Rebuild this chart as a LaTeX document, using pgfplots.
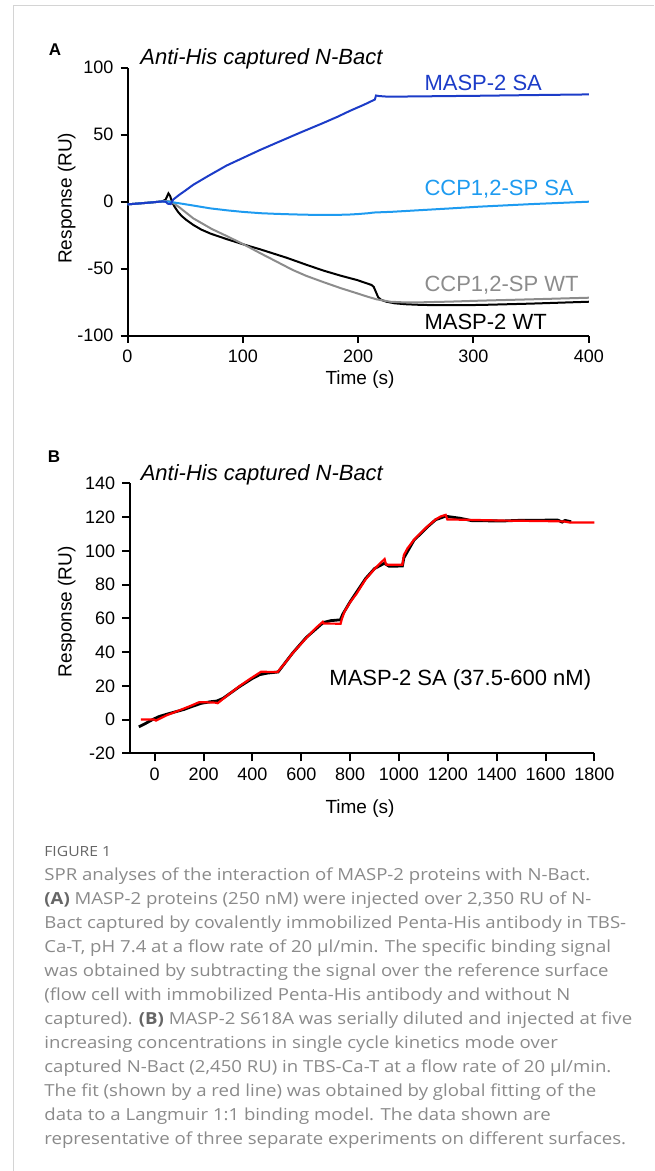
\documentclass[border=0pt]{standalone}
\usepackage{fontspec}
\setmainfont{Liberation Sans}
\newfontfamily\capfont[FakeStretch=1.12]{Open Sans}
\usepackage{pgfplots}
\pgfplotsset{compat=1.18}
\definecolor{darkblue}{HTML}{1C3CC8}
\definecolor{lightblue}{HTML}{1E9BF0}
\definecolor{grayline}{HTML}{8C8C8C}
\definecolor{capgray}{HTML}{8A8A8A}
\definecolor{capdark}{HTML}{666666}
\definecolor{framegray}{HTML}{D4D4D4}
\pgfplotsset{spr/.style={
  scale only axis, axis x line*=bottom, axis y line*=left,
  axis line style={line width=1pt, black},
  major tick style={line width=1pt, black},
  tick align=outside,
  tick label style={font=\fontsize{9}{10}\selectfont},
  clip=false}}
\newcommand{\capline}[2]{\node[anchor=base west, inner sep=0pt, text=capgray, font=\capfont\fontsize{8.3}{10}\selectfont] at (44,{880+24.03*#1}) {#2};}
\begin{document}
\begin{tikzpicture}
\path[use as bounding box] (0,0) rectangle (327pt,-585.5pt);
\draw[framegray, line width=0.5pt] (6.5pt,-585.5pt) -- (6.5pt,-3pt) -- (327pt,-3pt);
% ---------------- Panel A
\begin{axis}[spr, at={(63.75pt,-167.9pt)}, anchor=south west,
  width=230.65pt, height=134.1pt,
  xmin=0, xmax=400, ymin=-100, ymax=100,
  major tick length=3.5pt,
  xtick={0,100,200,300,400}, xticklabels={0,100,200,300,400},
  ytick={-100,-50,0,50,100}, yticklabels={-100,-50,0,50,100}]
\addplot[black, line width=1pt] table {
0 -2
10 -1.3
20 -0.6
30 0.2
33 1.5
35.5 6.2
37 4.2
38.5 0
41 -4
44 -7.8
47 -10.7
51 -13.6
57 -17.3
64 -20.8
72 -23.8
86 -27.9
100 -31.7
115 -35.5
138 -41.8
155 -47.0
170 -51.4
185 -55.2
199 -58.4
211.6 -62.1
213.5 -63.5
215 -66.5
217.4 -71.3
220 -73.2
224.6 -74.6
232 -75.8
242 -76.5
256 -77
280 -77.2
306 -77
350 -76
400 -74.6
};
\addplot[grayline, line width=1pt] table {
0 -2
10 -1.3
20 -0.6
30 0.2
34 0.5
38 0
45 -4.2
57 -12.4
73 -20.3
86 -25.6
100 -31.5
116 -38.8
130 -45.0
143 -50.8
155 -55.3
170 -60
185 -64.5
199 -68.3
208 -70.8
216 -72.8
228 -74.6
240 -75.1
256 -75
280 -74.5
306 -73.8
350 -72.8
400 -71.6
};
\addplot[lightblue, line width=1pt] table {
0 -2
10 -1.3
20 -0.6
30 0.2
36 0
45 -1.2
58 -3
72 -5
87 -6.5
100 -7.6
116 -8.6
130 -9.1
145 -9.5
160 -9.8
178 -9.9
192 -9.6
200 -9.2
210 -8.5
213 -8.1
230 -7.5
250 -6.5
280 -5.0
305 -3.7
350 -1.8
400 0
};
\addplot[darkblue, line width=1pt] table {
0 -2
10 -1.3
20 -0.6
30 0.2
33 0
35 -1.5
37.5 -1.8
39.5 1.5
45 5.2
50 8.2
57 12.6
70 19.2
86 27
100 32.6
115 38.6
130 44.2
150 51.6
170 58.8
182 63.3
193 67.8
205 72.3
214.5 76.2
215.5 79.2
218 78.8
226 78.3
260 78.6
305 79
350 79.5
400 80
};
\node[anchor=west, inner sep=0pt, font=\fontsize{11}{13}\selectfont\itshape] at (axis cs:10.8,106.9) {Anti-His captured N-Bact};
\node[anchor=west, inner sep=0pt, font=\fontsize{11}{13}\selectfont, text=darkblue] at (axis cs:257.2,88.3) {MASP-2 SA};
\node[anchor=west, inner sep=0pt, font=\fontsize{11}{13}\selectfont, text=lightblue] at (axis cs:257.2,9.2) {CCP1,2-SP SA};
\node[anchor=west, inner sep=0pt, font=\fontsize{11}{13}\selectfont, text=grayline] at (axis cs:257.2,-62.1) {CCP1,2-SP WT};
\node[anchor=west, inner sep=0pt, font=\fontsize{11}{13}\selectfont] at (axis cs:257.2,-89.5) {MASP-2 WT};
\end{axis}
% ---------------- Panel B
\begin{axis}[spr, at={(65.15pt,-376.65pt)}, anchor=south west,
  width=232.05pt, height=135pt,
  xmin=-100, xmax=1800, ymin=-20, ymax=140,
  major tick length=4pt,
  xtick={0,200,...,1800}, xticklabels={0,200,400,600,800,1000,1200,1400,1600,1800},
  ytick={-20,0,...,140}, yticklabels={-20,0,20,40,60,80,100,120,140}]
\addplot[black, line width=1.4pt] table {
-65 -4.3
-40 -2.5
-15 -0.5
0 0.6
18 1.8
50 3.2
80 4.4
120 6
150 7.6
190 9.6
230 10.6
255 11
280 12.6
346 19.4
400 24.4
430 26.6
460 27.5
505 28.2
565 39.5
620 48.6
690 57.5
720 58.6
760 59.1
770 62.5
800 69.8
863 83.5
900 89.5
940 92.6
960 90.8
1014 91.0
1020 95.8
1061 106.2
1116 114.1
1150 118.4
1190 120.5
1205 120.2
1250 119.3
1300 117.8
1430 117.7
1500 118.1
1650 118.2
1668 117.0
1680 118
1705 117.2
};
\addplot[red, line width=1.1pt] table {
-57 0
-3 0
5 -0.6
50 2.6
100 5.4
150 8.3
182 10.3
200 10.3
250 10.0
258 9.7
300 14.6
346 19.7
390 24.1
435 28.3
440 28.3
503 28.2
535 33.8
565 39.4
620 48.3
660 54.3
688 57.9
692 56.9
761 56.8
766 59.5
777 64
800 69.5
825 74.3
863 83
897 88.8
920 92.2
941 95.1
947 91.8
1014 91.7
1020 97.5
1035 101.5
1061 106.5
1090 110.8
1116 114.4
1150 118.6
1170 120.3
1191 121.3
1198 118.6
1300 118.3
1430 117.9
1600 117.6
1676 117.4
1697 116.8
1800 116.8
};
\node[anchor=west, inner sep=0pt, font=\fontsize{11}{13}\selectfont\itshape] at (axis cs:-58.6,145) {Anti-His captured N-Bact};
\node[inner sep=0pt, font=\fontsize{11}{13}\selectfont] at (axis cs:1251,23.5) {MASP-2 SA (37.5-600 nM)};
\end{axis}
% ---------------- labels in pixel units
\begin{scope}[x=0.5pt, y=-0.5pt]
\node[font=\fontsize{8.5}{10}\selectfont\bfseries] at (55,50) {A};
\node[font=\fontsize{8.5}{10}\selectfont\bfseries] at (54,456.7) {B};
\node[rotate=90, font=\fontsize{9.5}{11}\selectfont] at (66.8,198.3) {Response (RU)};
\node[font=\fontsize{9.5}{11}\selectfont] at (360,380) {Time (s)};
\node[rotate=90, font=\fontsize{9.5}{11}\selectfont] at (66.8,611.7) {Response (RU)};
\node[font=\fontsize{9.5}{11}\selectfont] at (360,808.3) {Time (s)};
\node[anchor=base west, inner sep=0pt, text=capdark, font=\capfont\fontsize{7}{8}\selectfont] at (44,856.5) {FIGURE 1};
\capline{0}{SPR analyses of the interaction of MASP-2 proteins with N-Bact.}
\capline{1}{{\color{capdark}\bfseries(A)} MASP-2 proteins (250 nM) were injected over 2,350 RU of N-}
\capline{2}{Bact captured by covalently immobilized Penta-His antibody in TBS-}
\capline{3}{Ca-T, pH 7.4 at a flow rate of 20 µl/min. The specific binding signal}
\capline{4}{was obtained by subtracting the signal over the reference surface}
\capline{5}{(flow cell with immobilized Penta-His antibody and without N}
\capline{6}{captured). {\color{capdark}\bfseries(B)} MASP-2 S618A was serially diluted and injected at five}
\capline{7}{increasing concentrations in single cycle kinetics mode over}
\capline{8}{captured N-Bact (2,450 RU) in TBS-Ca-T at a flow rate of 20 µl/min.}
\capline{9}{The fit (shown by a red line) was obtained by global fitting of the}
\capline{10}{data to a Langmuir 1:1 binding model. The data shown are}
\capline{11}{representative of three separate experiments on different surfaces.}
\end{scope}
\end{tikzpicture}
\end{document}
